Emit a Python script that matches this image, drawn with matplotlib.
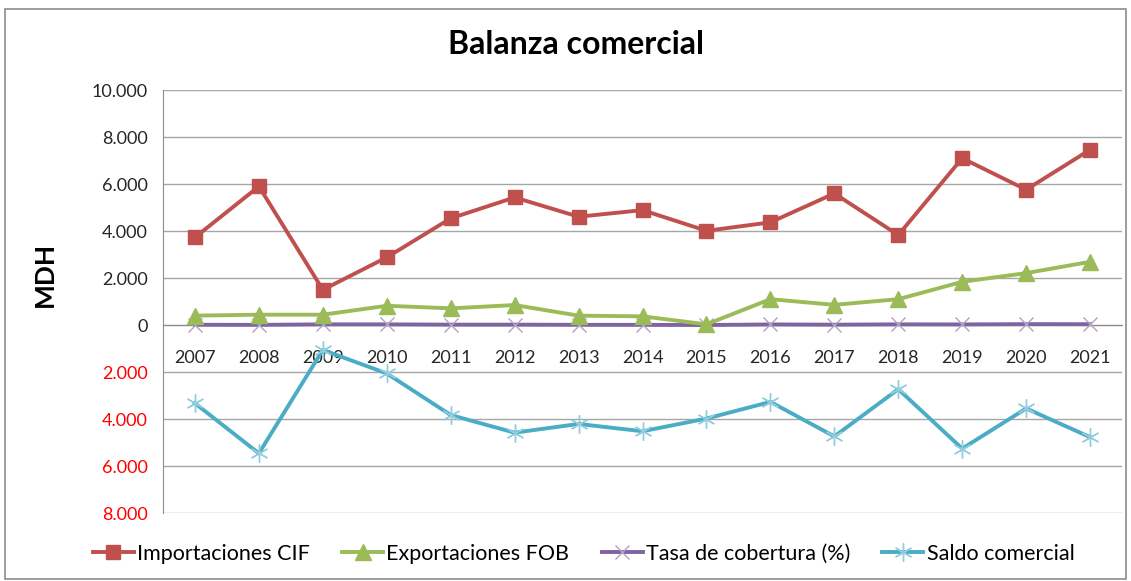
import matplotlib
matplotlib.use("Agg")
import matplotlib.pyplot as plt
from matplotlib.patches import Rectangle
from matplotlib.ticker import FixedLocator, FuncFormatter

plt.rcParams['font.family'] = ['Lato', 'DejaVu Sans']

# data (MDH)
years = ["2007", "2008", "2009", "2010", "2011", "2012", "2013", "2014",
         "2015", "2016", "2017", "2018", "2019", "2020", "2021"]
importaciones = [3730, 5900, 1500, 2880, 4540, 5430, 4610, 4890,
                 4010, 4370, 5600, 3830, 7100, 5760, 7460]
exportaciones = [400, 440, 440, 820, 710, 850, 400, 370,
                 30, 1100, 860, 1100, 1840, 2210, 2690]
tasa_cobertura = [11, 7, 29, 28, 16, 16, 9, 8, 1, 25, 15, 29, 26, 38, 36]
saldo = [-3330, -5460, -1060, -2060, -3830, -4580, -4210, -4520,
         -3980, -3270, -4740, -2730, -5260, -3550, -4770]
y_ticks = [-8000, -6000, -4000, -2000, 0, 2000, 4000, 6000, 8000, 10000]

fig = plt.figure(figsize=(11.31, 5.81), dpi=100)
ax = fig.add_axes([0.1441, 0.117, 0.848, 0.728])

x = list(range(len(years)))

ax.plot(x, importaciones, color="#C0504D", lw=2.8, marker="s", ms=10.5,
        label="Importaciones CIF", zorder=4)
ax.plot(x, exportaciones, color="#9BBB59", lw=2.8, marker="^", ms=11,
        label="Exportaciones FOB", zorder=4)
ax.plot(x, tasa_cobertura, color="#8064A2", lw=2.8, marker="x", ms=10,
        mec="#B3A2C7", mew=1.0, label="Tasa de cobertura (%)", zorder=3)
ax.plot(x, saldo, color="#4BACC6", lw=2.8, marker=(6, 2, 0), ms=13,
        mec="#93CDDD", mew=1.0, label="Saldo comercial", zorder=4)

ax.set_xlim(-0.5, len(years) - 0.5)
ax.set_ylim(-8000, 10000)
ax.yaxis.set_major_locator(FixedLocator(y_ticks))
ax.yaxis.set_major_formatter(
    FuncFormatter(lambda v, p: "{:,.0f}".format(abs(v)).replace(",", ".")))
for lab, v in zip(ax.get_yticklabels(), y_ticks):
    lab.set_color("#FF0000" if v < 0 else "#262626")
ax.tick_params(axis="y", length=0, pad=11, labelsize=13)
ax.grid(axis="y", color="#A6A6A6", lw=1)
ax.set_axisbelow(True)

# category axis crosses at zero
ax.spines['bottom'].set_position(('data', 0))
ax.spines['bottom'].set_color("#8C8C8C")
ax.set_xticks(x)
ax.set_xticklabels(years)
ax.tick_params(axis="x", length=0, pad=18, labelsize=13, labelcolor="#262626")
ax.spines['left'].set_color("#8C8C8C")
ax.spines['right'].set_visible(False)
ax.spines['top'].set_visible(False)

fig.text(0.509, 0.923, "Balanza comercial", ha="center", va="center",
         fontsize=23, fontweight="bold", color="#000000")
fig.text(0.040, 0.527, "MDH", ha="center", va="center", rotation=90,
         fontsize=19, fontweight="bold", color="#000000")

fig.legend(loc="center", bbox_to_anchor=(0.516, 0.047), ncol=4, frameon=False,
           fontsize=15.5, handlelength=1.9, handletextpad=0.15, columnspacing=1.5)

fig.patches.append(Rectangle((0.004, 0.003), 0.992, 0.982, transform=fig.transFigure,
                             fill=False, edgecolor="#8C8C8C", lw=1.2))

fig.savefig("out.png", dpi=100)
